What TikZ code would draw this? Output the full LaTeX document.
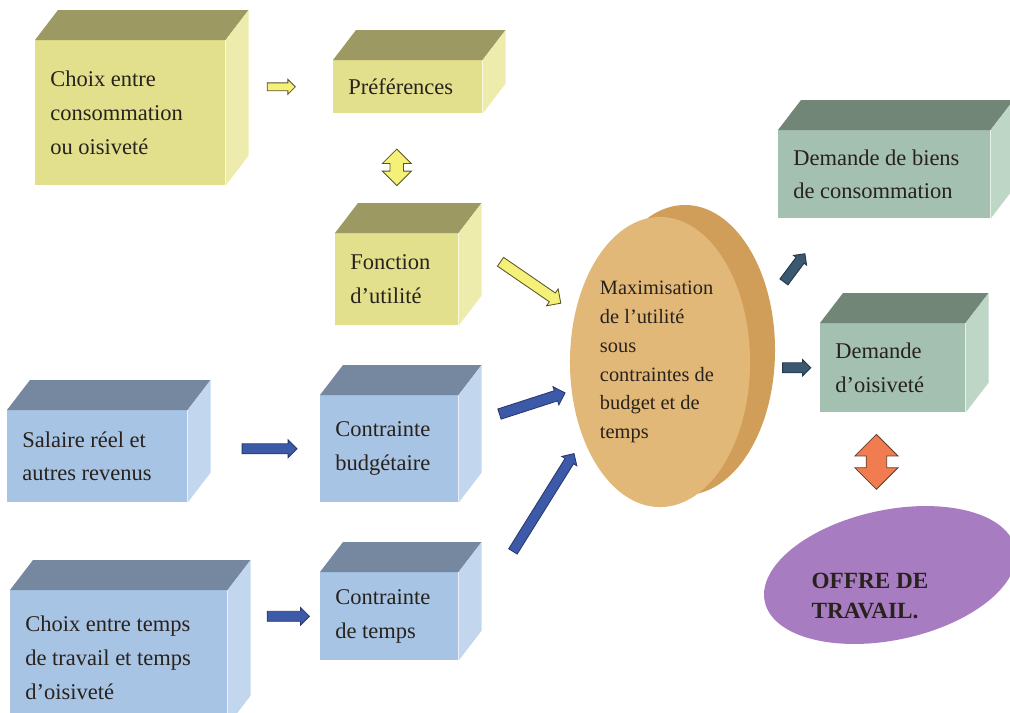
\documentclass[tikz,border=0pt]{standalone}
\usepackage{fontspec}
\setmainfont{Liberation Serif}
\usetikzlibrary{calc,positioning,shapes,shapes.arrows,shapes.geometric,backgrounds}
\definecolor{txt}{RGB}{40,34,28}
\definecolor{yfront}{RGB}{226,224,140}
\definecolor{ytop}{RGB}{156,154,98}
\definecolor{yside}{RGB}{238,236,172}
\definecolor{bfront}{RGB}{168,196,228}
\definecolor{btop}{RGB}{118,136,160}
\definecolor{bside}{RGB}{194,214,238}
\definecolor{gfront}{RGB}{164,192,176}
\definecolor{gtop}{RGB}{114,134,120}
\definecolor{gside}{RGB}{190,214,198}
\definecolor{mfront}{RGB}{226,184,120}
\definecolor{mback}{RGB}{208,158,88}
\definecolor{pfill}{RGB}{168,124,192}
\definecolor{yfill}{RGB}{244,240,120}
\definecolor{yline}{RGB}{90,84,40}
\definecolor{bfill}{RGB}{60,90,168}
\definecolor{bline}{RGB}{40,56,110}
\definecolor{tfill}{RGB}{58,88,112}
\definecolor{tline}{RGB}{36,54,72}
\definecolor{oafill}{RGB}{240,124,80}
\definecolor{oaline}{RGB}{96,60,40}
\tikzset{
  arr/.style n args={4}{single arrow, sloped, inner xsep=0pt, inner ysep=#3, fill=#1fill, draw=#1line, line width=0.6pt,
    minimum height=#2, single arrow head extend=#4},
  darr/.style n args={4}{double arrow, sloped, inner xsep=0pt, inner ysep=#3, fill=#1fill, draw=#1line, line width=0.6pt,
    minimum height=#2, double arrow head extend=#4}
}
\begin{document}
\begin{tikzpicture}[x=0.025cm,y=-0.025cm]
\tikzstyle{box}=[anchor=north west, inner xsep=0.375cm, inner ysep=0pt, align=flush left, text=txt, font=\fontsize{16}{24}\selectfont]
\tikzstyle{ybox}=[box, fill=yfront]
\tikzstyle{bbox}=[box, fill=bfront]
\tikzstyle{gbox}=[box, fill=gfront]
\useasboundingbox (0,0) rectangle (1010,712);
\begin{scope}[on background layer]
\fill[white] (0,0) rectangle (1010,712);
\end{scope}

\node[ybox, text width=4cm, minimum height=3.625cm] (choix) at (35,40) {Choix entre\\consommation\\ou oisiveté};
\node[ybox, text width=2.975cm, minimum height=1.325cm] (pref) at (333,60) {Préférences};
\node[ybox, text width=2.325cm, minimum height=2.3cm] (fonction) at (335,233) {Fonction\\d'utilité};
\node[bbox, text width=3.75cm, minimum height=2.3cm] (salaire) at (7,410) {Salaire réel et\\autres revenus};
\node[bbox, text width=2.7cm, minimum height=2.675cm] (budget) at (320,395) {Contrainte\\budgétaire};
\node[bbox, text width=4.675cm, minimum height=3.375cm] (tchoix) at (10,590) {Choix entre temps\\de travail et temps\\d'oisiveté};
\node[bbox, text width=2.7cm, minimum height=2.2cm] (temps) at (320,572) {Contrainte\\de temps};
\node[gbox, text width=4.55cm, minimum height=2.2cm] (dbiens) at (778,130) {Demande de biens\\de consommation};
\node[gbox, text width=2.875cm, minimum height=2.225cm] (doisiv) at (820,323) {Demande\\d'oisiveté};
\foreach \n/\k in {choix/y,pref/y,fonction/y,salaire/b,budget/b,tchoix/b,temps/b,dbiens/g,doisiv/g}{
  \fill[fill=\k top] (\n.north west) -- ++(23,-30) -- ($(\n.north east)+(23,-30)$) -- (\n.north east) -- cycle;
  \fill[fill=\k side] (\n.north east) -- ++(23,-30) -- ($(\n.south east)+(23,-30)$) -- (\n.south east) -- cycle;
}

\node[ellipse, fill=mfront, minimum width=4.5cm, minimum height=7.25cm, inner sep=0pt, text width=3cm, align=flush left,
  text=txt, font=\fontsize{14.5}{20.5}\selectfont] (maxim) at (660,362) {Maximisation\\de l'utilité\\sous\\contraintes de\\budget et de\\temps};
\begin{scope}[on background layer]
\fill[mback] ($(maxim.center)+(25,-12)$) ellipse [x radius=90, y radius=145];
\end{scope}
\node[ellipse, fill=pfill, minimum width=6.4cm, minimum height=3.25cm, rotate=12] (offre) at (890,575) {};
\node[font=\bfseries\fontsize{16.5}{22}\selectfont, align=flush left, text=txt] (offretxt) at (870,596) {OFFRE DE\\TRAVAIL.};

\path (choix.east |- pref.west) -- node[arr={y}{20pt}{2.5pt}{2.5pt}]{} (pref.west);
\path (fonction.north |- pref.south) -- node[pos=.45, darr={y}{26pt}{4.5pt}{5.5pt}]{} (fonction.north);
\path (fonction.north east) -- node[pos=.6, arr={y}{52pt}{3.5pt}{3.5pt}]{} (maxim.150);
\path (salaire.east |- budget.west) -- node[pos=.6, arr={b}{39pt}{3.25pt}{2.75pt}]{} (budget.west);
\path ($(budget.north east)!.3!(budget.south east)$) -- node[pos=.63, arr={b}{49pt}{3.5pt}{3pt}]{} (maxim.198);
\path ($(temps.east)!.5!(temps.south east)$) -- node[pos=.67, arr={b}{82pt}{3.25pt}{2.75pt}]{} (maxim.225);
\path (tchoix.east |- temps.west) -- node[pos=.63, arr={b}{30pt}{3.25pt}{2.75pt}]{} (temps.west);
\path (maxim.20) -- node[pos=.54, arr={t}{25pt}{3.25pt}{2.25pt}]{} ($(dbiens.south west)!.25!(dbiens.south east)$);
\path (maxim.east |- doisiv.west) -- node[pos=.63, arr={t}{20pt}{3.25pt}{2.25pt}]{} (doisiv.west);
\path (offre.north |- doisiv.south) -- node[darr={oa}{39pt}{7pt}{8pt}]{} (offre.north);
\end{tikzpicture}
\end{document}
